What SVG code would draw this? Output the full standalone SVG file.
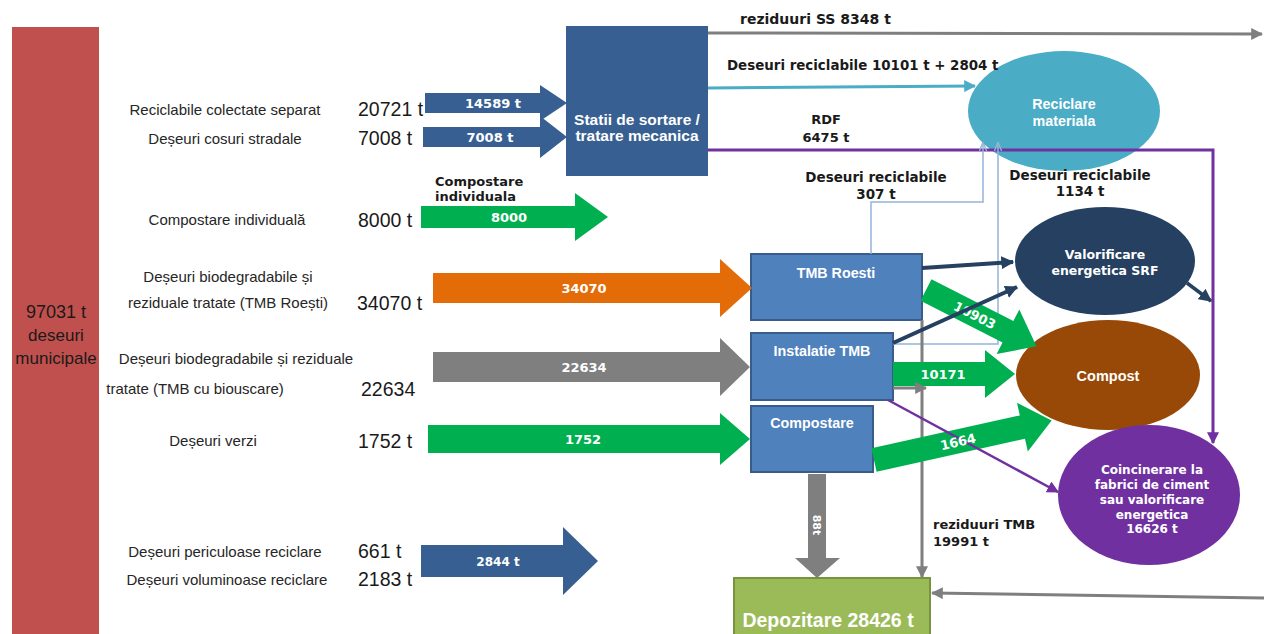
<svg xmlns="http://www.w3.org/2000/svg" width="1264" height="634" viewBox="0 0 1264 634">
<style>
.lbl{font-family:"Liberation Sans",Arial,sans-serif;font-size:15px;fill:#262626;text-anchor:middle}
.num{font-family:"Liberation Sans",Arial,sans-serif;font-size:19.5px;fill:#1a1a1a}
.bl{font-family:"DejaVu Sans",Verdana,sans-serif;font-weight:bold;font-size:13px;fill:#1a1a1a}
.wt{font-family:"DejaVu Sans",Verdana,sans-serif;font-weight:bold;font-size:13px;fill:#ffffff;text-anchor:middle}
.wb{font-family:"Liberation Sans",Arial,sans-serif;font-weight:bold;font-size:14.3px;fill:#ffffff;text-anchor:middle}
.box{fill:#4f81bd;stroke:#385d8a;stroke-width:2}
.ln{fill:none}
</style>
<defs>
<marker id="aGray" viewBox="0 0 10 10" refX="9" refY="5" markerWidth="12" markerHeight="12" markerUnits="userSpaceOnUse" orient="auto"><path d="M0,0 L10,5 L0,10 z" fill="#7f7f7f"/></marker>
<marker id="aBlue" viewBox="0 0 10 10" refX="9" refY="5" markerWidth="12" markerHeight="12" markerUnits="userSpaceOnUse" orient="auto"><path d="M0,0 L10,5 L0,10 z" fill="#4bacc6"/></marker>
<marker id="aPurple" viewBox="0 0 10 10" refX="9" refY="5" markerWidth="12" markerHeight="12" markerUnits="userSpaceOnUse" orient="auto"><path d="M0,0 L10,5 L0,10 z" fill="#7030a0"/></marker>
<marker id="aNavy" viewBox="0 0 10 10" refX="9" refY="5" markerWidth="13" markerHeight="13" markerUnits="userSpaceOnUse" orient="auto"><path d="M0,0 L10,5 L0,10 z" fill="#254061"/></marker>
<marker id="aThin" viewBox="0 0 10 10" refX="9" refY="5" markerWidth="9" markerHeight="9" markerUnits="userSpaceOnUse" orient="auto"><path d="M0,1 L10,5 L0,9" fill="none" stroke="#95b3d7" stroke-width="1.5"/></marker>
</defs>
<rect width="1264" height="634" fill="#ffffff"/>

<g id="total">
<rect x="12" y="27" width="87" height="607" fill="#c0504d"/>
<text x="56" y="318" class="num" text-anchor="middle" style="font-size:18px">97031 t</text>
<text x="56" y="341" class="num" text-anchor="middle" style="font-size:17px">deseuri</text>
<text x="56" y="364" class="num" text-anchor="middle" style="font-size:17px">municipale</text>
</g>

<g id="sources">
<text x="225" y="115" class="lbl">Reciclabile colectate separat</text>
<text x="358" y="116" class="num">20721 t</text>
<text x="225" y="144" class="lbl">Deșeuri cosuri stradale</text>
<text x="358" y="145" class="num">7008 t</text>
<text x="227" y="225" class="lbl">Compostare individuală</text>
<text x="358" y="227" class="num">8000 t</text>
<text x="228" y="282" class="lbl">Deșeuri biodegradabile și</text>
<text x="228" y="308" class="lbl">reziduale tratate (TMB Roești)</text>
<text x="357" y="310" class="num">34070 t</text>
<text x="236" y="364" class="lbl">Deșeuri biodegradabile și reziduale</text>
<text x="195" y="394" class="lbl">tratate (TMB cu biouscare)</text>
<text x="361" y="396" class="num">22634</text>
<text x="213" y="446" class="lbl">Deșeuri verzi</text>
<text x="358" y="448" class="num">1752 t</text>
<text x="225" y="557" class="lbl">Deșeuri periculoase  reciclare</text>
<text x="358" y="558" class="num">661 t</text>
<text x="227" y="585" class="lbl">Deșeuri voluminoase reciclare</text>
<text x="358" y="586" class="num">2183 t</text>
</g>

<g id="statii">
<rect x="566" y="26" width="142" height="150" fill="#375f91"/>
<text x="637" y="125" class="wb" style="font-size:15.5px">Statii de sortare /</text>
<text x="637" y="141" class="wb" style="font-size:15.5px">tratare mecanica</text>
</g>
<g id="tmb-roesti">
<rect x="751" y="254" width="171" height="66" class="box"/>
<text x="836" y="278" class="wb">TMB Roesti</text>
</g>
<g id="instalatie-tmb">
<rect x="751" y="333" width="142" height="67" class="box"/>
<text x="822" y="356" class="wb">Instalatie TMB</text>
</g>
<g id="compostare">
<rect x="751" y="406" width="122" height="66" class="box"/>
<text x="812" y="428" class="wb">Compostare</text>
</g>
<g id="depozitare">
<rect x="734" y="578" width="196" height="60" fill="#9bbb59" stroke="#77933c" stroke-width="2"/>
<text x="828" y="627" class="wb" style="font-size:19.5px">Depozitare 28426 t</text>
</g>
<g id="reciclare">
<ellipse cx="1064" cy="111" rx="96" ry="60" fill="#4bacc6"/>
<text x="1064" y="109" class="wb">Reciclare</text>
<text x="1064" y="126" class="wb">materiala</text>
</g>
<g id="valorificare">
<ellipse cx="1105" cy="261" rx="90" ry="54" fill="#254061"/>
<text x="1105" y="259" class="wt" style="font-size:12.5px">Valorificare</text>
<text x="1105" y="275" class="wt" style="font-size:12.5px">energetica SRF</text>
</g>
<g id="compost">
<ellipse cx="1108" cy="375" rx="92" ry="55" fill="#984807"/>
<text x="1108" y="381" class="wb" style="font-size:14.5px">Compost</text>
</g>
<g id="coincinerare">
<ellipse cx="1149" cy="495" rx="91" ry="70" fill="#7030a0"/>
<text x="1152" y="474" class="wt" style="font-size:12px">Coincinerare la</text>
<text x="1152" y="489" class="wt" style="font-size:12px">fabrici de ciment</text>
<text x="1152" y="504" class="wt" style="font-size:12px">sau valorificare</text>
<text x="1152" y="519" class="wt" style="font-size:12px">energetica</text>
<text x="1152" y="533" class="wt" style="font-size:12px">16626 t</text>
</g>

<g id="connectors">
<!-- input block arrows -->
<polygon points="425,93 540,93 540,85 567,103 540,121 540,113 425,113" fill="#375f91"/>
<text x="493" y="108" class="wt">14589 t</text>
<polygon points="423,127 540,127 540,116 567,137 540,158 540,147 423,147" fill="#375f91"/>
<text x="490" y="142" class="wt">7008 t</text>
<polygon points="421,206 575,206 575,193 608,217 575,241 575,228 421,228" fill="#00b050"/>
<text x="509" y="222" class="wt">8000</text>
<text x="435" y="186" class="bl">Compostare</text>
<text x="435" y="201" class="bl">individuala</text>
<polygon points="433,273 720,273 720,259 752,288 720,317 720,303 433,303" fill="#e36c09"/>
<text x="584" y="293" class="wt">34070</text>
<polygon points="433,352 720,352 720,338 750,367 720,396 720,382 433,382" fill="#7f7f7f"/>
<text x="584" y="372" class="wt">22634</text>
<polygon points="428,425 720,425 720,413 750,439 720,465 720,453 428,453" fill="#00b050"/>
<text x="583" y="444" class="wt">1752</text>
<polygon points="421,545 563,545 563,527 598,561 563,595 563,577 421,577" fill="#375f91"/>
<text x="498" y="566" class="wt" style="font-size:12px">2844 t</text>

<!-- outputs from statii -->
<line x1="708" y1="33" x2="1262" y2="34" stroke="#7f7f7f" stroke-width="3" marker-end="url(#aGray)"/>
<text x="740" y="24" class="bl" style="font-size:14px">reziduuri SS 8348 t</text>
<line x1="708" y1="88" x2="975" y2="86" stroke="#4bacc6" stroke-width="3" marker-end="url(#aBlue)"/>
<text x="727" y="70" class="bl" style="font-size:13.4px">Deseuri reciclabile 10101 t + 2804 t</text>
<path d="M708,150 H1213 V443" class="ln" stroke="#7030a0" stroke-width="3" marker-end="url(#aPurple)"/>
<text x="826" y="124" class="bl" text-anchor="middle">RDF</text>
<text x="826" y="142" class="bl" text-anchor="middle">6475 t</text>

<!-- thin recyclable lines -->
<polyline points="871,254 871,202 983,202 983,143" class="ln" stroke="#95b3d7" stroke-width="1.5" marker-end="url(#aThin)"/>
<polyline points="893,344 998,344 998,143" class="ln" stroke="#95b3d7" stroke-width="1.5" marker-end="url(#aThin)"/>
<text x="876" y="182" class="bl" text-anchor="middle" style="font-size:13.5px">Deseuri reciclabile</text>
<text x="876" y="199" class="bl" text-anchor="middle" style="font-size:13.5px">307 t</text>
<text x="1080" y="180" class="bl" text-anchor="middle" style="font-size:13.5px">Deseuri reciclabile</text>
<text x="1080" y="196" class="bl" text-anchor="middle" style="font-size:13.5px">1134 t</text>

<!-- residue lines (under green arrows) -->
<line x1="922" y1="320" x2="922" y2="577" stroke="#7f7f7f" stroke-width="3" marker-end="url(#aGray)"/>
<text x="933" y="529" class="bl">reziduuri TMB</text>
<text x="933" y="546" class="bl">19991 t</text>
<line x1="1264" y1="598" x2="932" y2="593" stroke="#7f7f7f" stroke-width="3" marker-end="url(#aGray)"/>

<!-- green to compost -->
<g transform="translate(926,290) rotate(27)">
<polygon points="0,-12 92,-12 92,-25 124,0 92,25 92,12 0,12" fill="#00b050"/>
<text x="55" y="5" class="wt">10903</text>
</g>
<polygon points="893,362 985,362 985,350 1015,374 985,398 985,386 893,386" fill="#00b050"/>
<text x="943" y="379" class="wt">10171</text>
<line x1="893" y1="388" x2="926" y2="388" stroke="#7f7f7f" stroke-width="3" marker-end="url(#aGray)"/>
<polygon transform="translate(874,460) rotate(-12.5)" points="0,-12 152,-12 152,-25 182,0 152,25 152,12 0,12" fill="#00b050"/>

<!-- purple to coincinerare -->
<line x1="888" y1="400" x2="1058" y2="492" stroke="#7030a0" stroke-width="2.5" marker-end="url(#aPurple)"/>
<text transform="translate(874,460) rotate(-12.5)" x="86" y="5" class="wt">1664</text>

<!-- navy SRF -->
<line x1="922" y1="268" x2="1013" y2="262" stroke="#254061" stroke-width="4" marker-end="url(#aNavy)"/>
<line x1="893" y1="343" x2="1017" y2="287" stroke="#254061" stroke-width="4" marker-end="url(#aNavy)"/>
<line x1="1187" y1="283" x2="1211" y2="301" stroke="#254061" stroke-width="3.5" marker-end="url(#aNavy)"/>

<polygon points="808,474 826,474 826,558 840,558 817,578 795,558 808,558" fill="#7f7f7f"/>
<text transform="translate(813,525) rotate(90)" class="wt" style="font-size:11px">88t</text>
</g>
</svg>
